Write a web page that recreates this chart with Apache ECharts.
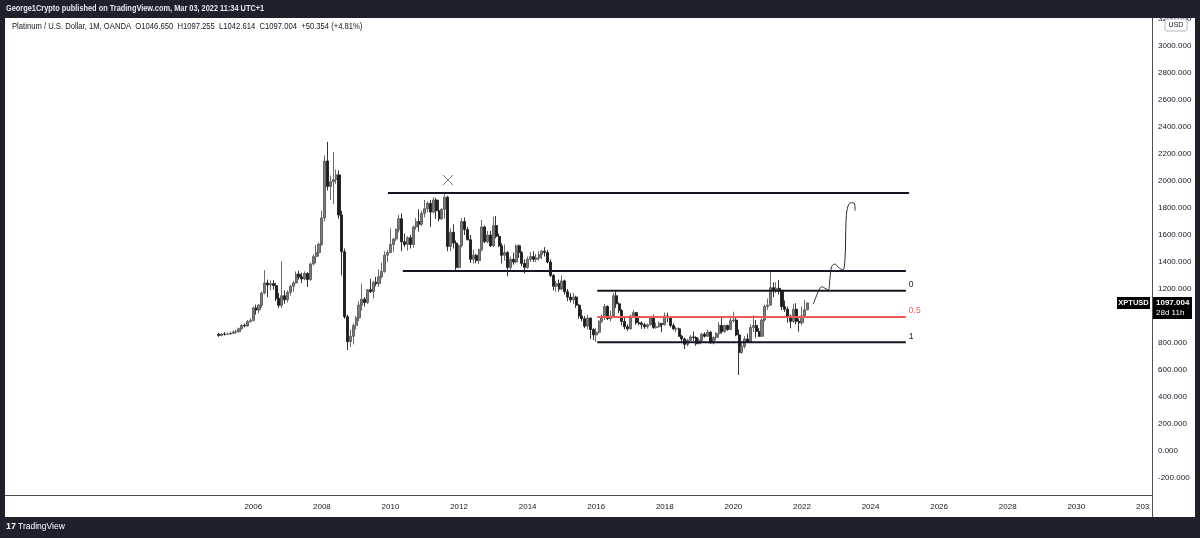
<!DOCTYPE html>
<html><head><meta charset="utf-8">
<script src="https://cdn.jsdelivr.net/npm/echarts/dist/echarts.min.js"></script>
<style>html,body{margin:0;padding:0;background:#1e2129}#c{width:1200px;height:538px}</style>
</head><body><div id="c"></div>
<script>
// ---------- data ----------
const firstMonth = [1998, 12];     // first month on the time axis
const monthCount = 400;            // months shown on the time axis
const candleStart = '2005-01';     // first candle
const yearLabels = ['2006','2008','2010','2012','2014','2016','2018','2020','2022','2024','2026','2028','2030','2032'];
const priceTicks = { min: -400, max: 3200, step: 200 };

const opens = [
 864,857,866,865,866,872,882,884,905,930,926,960,
 966,1060,1045,1080,1170,1245,1230,1240,1225,1130,1080,1150,
 1120,1175,1220,1245,1310,1290,1275,1315,1270,1385,1440,1470,
 1530,1726,2148,1960,1995,2010,2045,1748,1476,995,810,850,
 930,985,1080,1125,1100,1195,1180,1250,1240,1290,1330,1450,
 1470,1530,1570,1640,1720,1550,1530,1580,1530,1660,1700,1680,
 1760,1795,1835,1770,1860,1780,1720,1790,1880,1515,1620,1540,
 1360,1520,1700,1640,1565,1420,1450,1410,1490,1660,1550,1600,
 1520,1670,1590,1520,1450,1470,1360,1420,1400,1520,1470,1390,
 1360,1420,1440,1420,1430,1455,1480,1470,1400,1300,1220,1240,
 1200,1260,1180,1140,1120,1140,1080,1000,980,925,985,900,
 860,880,960,990,1070,980,1000,1150,1090,1040,960,920,
 905,1000,1025,950,945,935,920,935,985,915,920,945,
 935,1000,990,930,905,905,850,830,790,820,845,840,
 795,820,865,850,880,800,840,870,930,885,930,900,
 965,970,860,730,775,830,805,915,930,885,850,970,
 1070,1080,1210,1190,1205,1185,1070,1050,1000,960,1050,960,
 950,1000,1046.65
];
const closes = [
 857,866,865,866,872,882,884,905,930,926,960,966,
 1060,1045,1080,1170,1245,1230,1240,1225,1130,1080,1150,1120,
 1175,1220,1245,1310,1290,1275,1315,1270,1385,1440,1470,1530,
 1726,2148,1960,1995,2010,2045,1748,1476,995,810,850,930,
 985,1080,1125,1100,1195,1180,1250,1240,1290,1330,1450,1470,
 1530,1570,1640,1720,1550,1530,1580,1530,1660,1700,1680,1760,
 1795,1835,1770,1860,1780,1720,1790,1880,1515,1620,1540,1360,
 1520,1700,1640,1565,1420,1450,1410,1490,1660,1550,1600,1520,
 1670,1590,1520,1450,1470,1360,1420,1400,1520,1470,1390,1360,
 1420,1440,1420,1430,1455,1480,1470,1400,1300,1220,1240,1200,
 1260,1180,1140,1120,1140,1080,1000,980,925,985,900,860,
 880,960,990,1070,980,1000,1150,1090,1040,960,920,905,
 1000,1025,950,945,935,920,935,985,915,920,945,935,
 1000,990,930,905,905,850,830,790,820,845,840,795,
 820,865,850,880,800,840,870,930,885,930,900,965,
 970,860,730,775,830,805,915,930,885,850,970,1070,
 1080,1210,1190,1205,1185,1070,1050,1000,960,1050,960,950,
 1000,1047,1097.004
];
const lows = [
 845,850,855,858,860,865,870,880,900,915,920,950,
 960,1010,1020,1060,1160,1140,1190,1195,1110,1060,1060,1090,
 1100,1150,1180,1240,1270,1245,1265,1215,1260,1375,1390,1440,
 1520,1700,1930,1860,1830,1980,1720,1300,980,748,770,790,
 900,960,1040,1070,1090,1170,1130,1220,1215,1280,1320,1400,
 1465,1475,1555,1620,1480,1510,1485,1500,1505,1640,1625,1665,
 1730,1770,1660,1760,1720,1700,1710,1720,1480,1480,1500,1341,
 1350,1510,1600,1560,1393,1390,1390,1385,1480,1540,1540,1510,
 1510,1575,1510,1390,1410,1294,1330,1380,1390,1430,1370,1316,
 1350,1400,1400,1400,1410,1420,1440,1390,1290,1190,1180,1180,
 1190,1160,1110,1100,1090,1060,980,960,910,900,830,822,
 808,870,950,970,970,960,990,1060,1020,930,900,890,
 900,995,935,930,905,905,905,930,905,905,915,880,
 930,955,915,895,880,845,810,755,775,810,815,780,
 790,805,840,845,795,790,820,840,870,875,890,895,
 950,850,563,720,760,800,800,880,840,845,850,960,
 1045,1080,1140,1170,1160,1045,1030,950,909,950,940,884,
 930,990,1042.614
];
const highs = [
 875,872,880,878,885,892,898,915,940,945,970,985,
 1070,1085,1090,1180,1340,1270,1265,1265,1245,1170,1405,1190,
 1190,1230,1260,1330,1335,1320,1330,1325,1395,1460,1525,1545,
 1780,2190,2289,2040,2215,2085,2080,1780,1500,1010,900,945,
 1000,1110,1240,1140,1200,1275,1260,1290,1345,1395,1480,1490,
 1650,1580,1650,1750,1760,1610,1590,1600,1670,1725,1790,1780,
 1860,1850,1860,1880,1875,1860,1800,1911,1890,1650,1680,1560,
 1530,1725,1730,1660,1600,1490,1460,1500,1711,1670,1630,1630,
 1735,1740,1610,1540,1530,1480,1440,1470,1530,1530,1480,1420,
 1440,1475,1480,1460,1480,1490,1510,1490,1420,1310,1260,1270,
 1300,1270,1200,1170,1170,1150,1090,1050,1000,1010,990,910,
 910,970,1010,1090,1080,1040,1170,1187,1100,1050,990,940,
 1010,1045,1030,985,960,950,945,1000,1010,950,960,945,
 1025,1025,1000,945,920,915,860,840,830,860,885,850,
 835,875,880,900,890,850,880,955,985,935,935,985,
 1032,1000,900,800,850,870,940,1005,970,910,980,1085,
 1130,1339,1250,1250,1265,1195,1115,1070,1010,1090,1095,980,
 1070,1119,1097.255
];

// drawn annotations (decimal year, price)
const resistanceLevels = [1911, 1333];
const resistanceSpans = [[2009.925, 2025.125], [2010.36, 2025.03]];
const fibLevels = [1187, 993, 805];
const fibLabels = ['0', '0.5', '1'];
const fibSpan = [2016.03, 2025.03];
const crossMark = [2011.675, 2007];
const drawnPath = [
 [2022.331,1089],[2022.475,1180],[2022.575,1217],[2022.675,1205],[2022.767,1193],
 [2022.817,1279],[2022.867,1366],[2022.967,1385],[2023.058,1361],[2023.192,1341],
 [2023.258,1440],[2023.283,1687],[2023.325,1798],[2023.425,1839],[2023.517,1839],[2023.55,1780]
];
const symbolTag = 'XPTUSD';
const countdown = '28d 11h';
const headerText = 'George1Crypto published on TradingView.com, Mar 03, 2022 11:34 UTC+1';
const legendText = 'Platinum / U.S. Dollar, 1M, OANDA  O1046.650  H1097.255  L1042.614  C1097.004  +50.354 (+4.81%)';

// ---------- build ----------
const months = [];
for (let i = 0; i < monthCount; i++) {
  const t = firstMonth[0] * 12 + (firstMonth[1] - 1) + i;
  months.push(Math.floor(t / 12) + '-' + String(t % 12 + 1).padStart(2, '0'));
}
const startIdx = months.indexOf(candleStart);
const candleData = months.map((m, i) => {
  const k = i - startIdx;
  return (k >= 0 && k < opens.length) ? [opens[k], closes[k], lows[k], highs[k]] : '-';
});
const refIdx = months.indexOf('2006-01');
const toIdx = yr => refIdx + (yr - 2006) * 12;
const labelSet = new Set(yearLabels.map(y => y + '-01'));

const FONT = "'Liberation Sans', Arial, sans-serif";
const series = [{
  type: 'candlestick', xAxisIndex: 0, yAxisIndex: 0, data: candleData, barWidth: 2.6,
  itemStyle: { color: '#7c7c7c', borderColor: '#5a5a5a', color0: '#1e1e1e', borderColor0: '#1e1e1e', borderWidth: 0.9 }
}];
resistanceLevels.forEach((v, i) => series.push({
  type: 'line', xAxisIndex: 1, yAxisIndex: 0, showSymbol: false, silent: true,
  data: [[toIdx(resistanceSpans[i][0]), v], [toIdx(resistanceSpans[i][1]), v]],
  lineStyle: { color: '#131722', width: 2 }
}));
fibLevels.forEach((v, i) => {
  const red = fibLabels[i] === '0.5';
  series.push({
    type: 'line', xAxisIndex: 1, yAxisIndex: 0, showSymbol: false, silent: true,
    data: [[toIdx(fibSpan[0]), v], [toIdx(fibSpan[1]), v]],
    lineStyle: { color: red ? '#f0585a' : '#131722', width: 2 },
    endLabel: { show: true, formatter: fibLabels[i], color: red ? '#f0585a' : '#131722',
      fontSize: 8.5, fontFamily: FONT, distance: 3, offset: [0, -6] }
  });
});
series.push({
  type: 'line', xAxisIndex: 1, yAxisIndex: 0, showSymbol: false, silent: true, smooth: 0.35,
  data: drawnPath.map(p => [toIdx(p[0]), p[1]]),
  lineStyle: { color: '#2a2a2a', width: 1 }
});
series.push({
  type: 'scatter', xAxisIndex: 1, yAxisIndex: 0, silent: true,
  symbol: 'path://M0 0L10 10M10 0L0 10', symbolSize: 10,
  data: [[toIdx(crossMark[0]), crossMark[1]]],
  itemStyle: { color: 'none', borderColor: '#555', borderWidth: 1 }
});

const chart = echarts.init(document.getElementById('c'), null, { renderer: 'canvas' });
const option = {
  animation: false,
  backgroundColor: '#ffffff',
  grid: [
    { left: 9, right: 48, top: 19, bottom: 33 },
    { left: 9, right: 48, top: 497, height: 2 }
  ],
  xAxis: [
    { type: 'category', gridIndex: 0, data: months, show: false },
    { type: 'value', gridIndex: 0, min: -0.5, max: monthCount - 0.5, show: false },
    { type: 'category', gridIndex: 1, data: months, axisLine: { show: false }, axisTick: { show: false },
      axisLabel: { interval: (i, v) => labelSet.has(v), formatter: v => v.slice(0, 4),
        color: '#131722', fontSize: 8, fontFamily: FONT, margin: 4 } }
  ],
  yAxis: [
    { type: 'value', gridIndex: 0, position: 'right', min: priceTicks.min, max: priceTicks.max, interval: priceTicks.step,
      axisLine: { show: false }, axisTick: { show: false }, splitLine: { show: false },
      axisLabel: { color: '#131722', fontSize: 8, fontFamily: FONT, margin: 6,
        formatter: v => v === priceTicks.min ? '' : v.toFixed(3) } },
    { type: 'value', gridIndex: 1, show: false }
  ],
  series
};
chart.setOption(option);

const yLast = chart.convertToPixel({ yAxisIndex: 0 }, closes[closes.length - 1]);
const dark = '#1e2129', frame = '#4a4e59';
const g = [
  { type: 'rect', z: 100, shape: { x: 0, y: 0, width: 1200, height: 18 }, style: { fill: dark } },
  { type: 'rect', z: 100, shape: { x: 0, y: 517, width: 1200, height: 21 }, style: { fill: dark } },
  { type: 'rect', z: 100, shape: { x: 0, y: 0, width: 5, height: 538 }, style: { fill: dark } },
  { type: 'rect', z: 100, shape: { x: 1195, y: 0, width: 5, height: 538 }, style: { fill: dark } },
  { type: 'rect', z: 90, shape: { x: 5, y: 495, width: 1147, height: 1 }, style: { fill: frame } },
  { type: 'rect', z: 90, shape: { x: 1150, y: 496, width: 45, height: 21 }, style: { fill: '#ffffff' } },
  { type: 'rect', z: 91, shape: { x: 1152, y: 18, width: 1, height: 499 }, style: { fill: frame } },
  { type: 'text', z: 101, x: 6, y: 9, scaleX: 0.82, style: { text: headerText, x: 0, y: 0, fill: '#e8e9ed', font: "600 9px " + FONT, textVerticalAlign: 'middle' } },
  { type: 'text', z: 101, x: 12, y: 27, scaleX: 0.9, style: { text: legendText, x: 0, y: 0, fill: '#131722', font: "8.5px " + FONT, textVerticalAlign: 'middle' } },
  { type: 'rect', z: 95, shape: { x: 1165, y: 19, width: 22, height: 12, r: 2 }, style: { fill: '#ffffff', stroke: '#b2b5be', lineWidth: 1 } },
  { type: 'text', z: 96, style: { text: 'USD', x: 1176, y: 25.5, fill: '#131722', font: "7px " + FONT, textAlign: 'center', textVerticalAlign: 'middle' } },
  { type: 'rect', z: 95, shape: { x: 1117, y: yLast - 6, width: 33, height: 12 }, style: { fill: '#000000' } },
  { type: 'text', z: 96, style: { text: symbolTag, x: 1133.5, y: yLast, fill: '#ffffff', font: "bold 7.5px " + FONT, textAlign: 'center', textVerticalAlign: 'middle' } },
  { type: 'rect', z: 95, shape: { x: 1153, y: yLast - 6, width: 39, height: 22 }, style: { fill: '#000000' } },
  { type: 'text', z: 96, style: { text: closes[closes.length - 1].toFixed(3), x: 1156, y: yLast, fill: '#ffffff', font: "bold 8px " + FONT, textVerticalAlign: 'middle' } },
  { type: 'text', z: 96, style: { text: countdown, x: 1156, y: yLast + 10, fill: '#ffffff', font: "8px " + FONT, textVerticalAlign: 'middle' } },
  { type: 'text', z: 101, style: { text: '17', x: 6, y: 527, fill: '#ffffff', font: "bold 9px " + FONT, textVerticalAlign: 'middle' } },
  { type: 'text', z: 101, style: { text: 'TradingView', x: 18, y: 527, fill: '#ffffff', font: "8.5px " + FONT, textVerticalAlign: 'middle' } }
];
chart.setOption({ graphic: g });
</script>
</body></html>
